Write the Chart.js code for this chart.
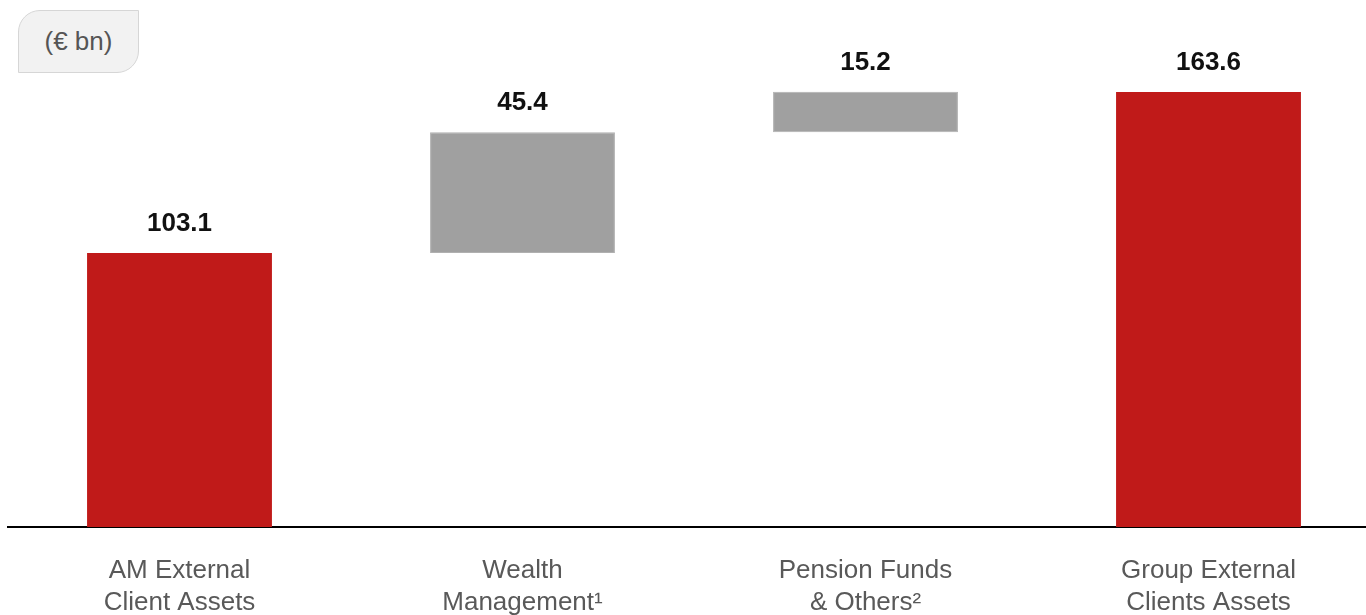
<!DOCTYPE html>
<html>
<head>
<meta charset="utf-8">
<script src="https://cdn.jsdelivr.net/npm/chart.js@4/dist/chart.umd.min.js"></script>
<style>
  html, body { margin: 0; padding: 0; background: #fff; overflow: hidden; }
  #wrap { position: relative; width: 1380px; height: 615px; overflow: hidden; }
  #c { position: absolute; left: 0; top: 0; }
  #unit {
    position: absolute; left: 18px; top: 10px; width: 119px; height: 61px;
    background: #f2f2f2; border: 1px solid #d6d6d6;
    border-radius: 22px 0 22px 0; box-sizing: content-box;
    font-family: "Liberation Sans", Arial, sans-serif; font-size: 26px; color: #555;
    display: flex; align-items: center; justify-content: center;
  }
</style>
</head>
<body>
<div id="wrap">
  <canvas id="c" width="1380" height="647"></canvas>
  <div id="unit">(€ bn)</div>
</div>
<script>
const categories = [
  ["AM External", "Client Assets"],
  ["Wealth", "Management\u00B9"],
  ["Pension Funds", "& Others\u00B2"],
  ["Group External", "Clients Assets"]
];
const values = [103.1, 45.4, 15.2, 163.6];
const barKinds = ["total", "delta", "delta", "total"];
const valueLabels = ["103.1", "45.4", "15.2", "163.6"];

const RED = "#c01a19";
const GREY = "#a0a0a0";

// build floating ranges from values
let running = 0;
const ranges = values.map((v, i) => {
  if (barKinds[i] === "total") { running = v; return [0, v]; }
  const r = [running, running + v]; running += v; return r;
});

const valueLabelPlugin = {
  id: "valueLabels",
  afterDatasetsDraw(chart) {
    const ctx = chart.ctx;
    const meta = chart.getDatasetMeta(0);
    ctx.save();
    ctx.font = "bold 26px 'Liberation Sans', Arial, sans-serif";
    ctx.fillStyle = "#111";
    ctx.textAlign = "center";
    ctx.textBaseline = "alphabetic";
    meta.data.forEach((bar, i) => {
      const top = Math.min(bar.y, bar.base);
      ctx.fillText(valueLabels[i], bar.x, top - 22);
    });
    ctx.restore();
  }
};

new Chart(document.getElementById("c"), {
  type: "bar",
  data: {
    labels: categories,
    datasets: [{
      data: ranges,
      backgroundColor: barKinds.map(k => k === "total" ? RED : GREY),
      borderColor: barKinds.map(k => k === "total" ? RED : "#b0b0b0"),
      borderWidth: barKinds.map(k => k === "total" ? 0 : 1),
      borderSkipped: false,
      categoryPercentage: 1,
      barPercentage: 0.539
    }]
  },
  options: {
    responsive: false,
    animation: false,
    devicePixelRatio: 1,
    layout: { padding: { left: 8, right: 0, top: 0, bottom: 0 } },
    plugins: { legend: { display: false }, tooltip: { enabled: false } },
    scales: {
      y: {
        display: false,
        min: 0,
        max: 198.2
      },
      x: {
        grid: { display: false, drawTicks: false },
        border: { display: true, color: "#000", width: 2 },
        ticks: {
          color: "#595959",
          padding: 28,
          maxRotation: 0,
          autoSkip: false,
          font: { family: "'Liberation Sans', Arial, sans-serif", size: 26, lineHeight: 1.23 }
        }
      }
    }
  },
  plugins: [valueLabelPlugin]
});
</script>
</body>
</html>
